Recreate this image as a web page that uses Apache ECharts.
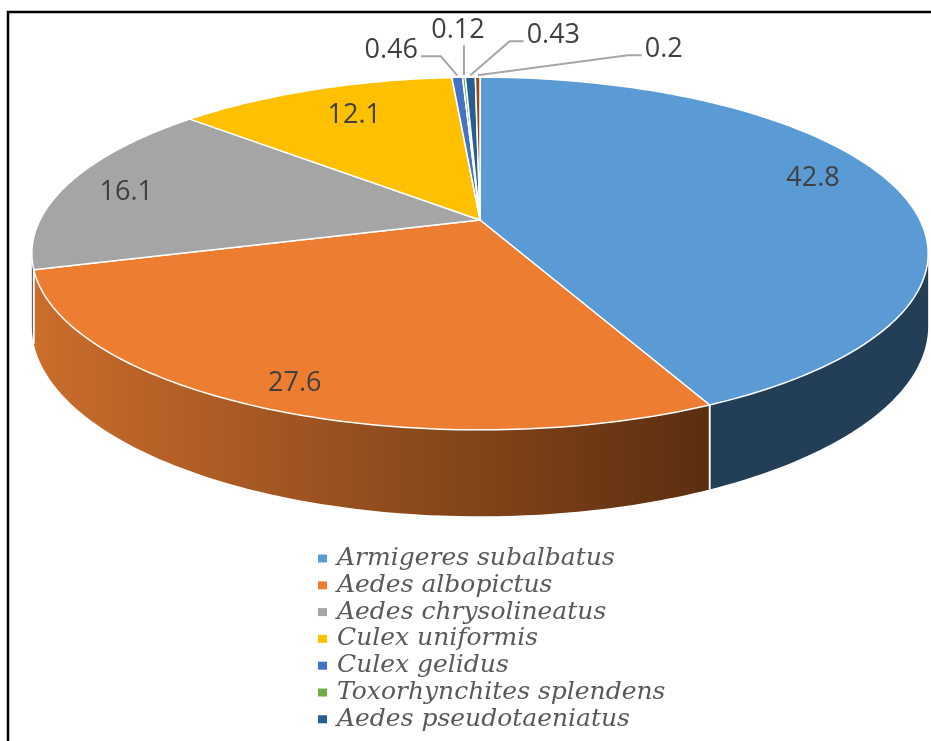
<!DOCTYPE html>
<html><head><meta charset="utf-8">
<script src="https://cdn.jsdelivr.net/npm/echarts@6/dist/echarts.min.js"></script>
<style>html,body{margin:0;padding:0;background:#fff}#c{width:931px;height:741px}</style>
</head><body><div id="c"></div>
<script>
// ---- data ----
const SPECIES = ['Armigeres subalbatus','Aedes albopictus','Aedes chrysolineatus','Culex uniformis','Culex gelidus','Toxorhynchites splendens','Aedes pseudotaeniatus','Other'];
const VALUES = [42.8, 27.6, 16.1, 12.1, 0.46, 0.12, 0.43, 0.2];
const LABELS = ['42.8','27.6','16.1','12.1','0.46','0.12','0.43','0.2'];
const LEGEND_NAMES = SPECIES.slice(0, 7);

// ---- styles / layout ----
const TOP_COLORS = ['#5B9BD5','#ED7D31','#A5A5A5','#FFC000','#4472C4','#70AD47','#255E91','#9E480E'];
const WALL_COLORS = [['#233E57','#233E57'], ['#CB6D2C','#5B2E10'], ['#6E6E6E','#555555'], ['#9A7400','#7A5C00'],
                     ['#2A4A80','#2A4A80'], ['#44692A','#44692A'], ['#173A5A','#173A5A'], ['#5F2B08','#5F2B08']];
const OUTSIDE = [false,false,false,false,true,true,true,true];
const LABEL_OFFSET = [[1,-13],[-18,19],[-22,2],[11,3],[-66,-25],[-6,-45],[83,-40],[186,-26]];
const LABEL_FONT = '27px "Open Sans"';

// perspective pie geometry
const CX = 480, CY = 220, A = 440, B = 170, K = 0.19, T0 = 70;
const TOTAL = VALUES.reduce((s, v) => s + v, 0);
const S1 = Math.acos(-K) * 180 / Math.PI, S2 = 360 - S1;

function P(deg, r, h) {
  const t = deg * Math.PI / 180;
  const u = r * Math.sin(t), v = r * Math.cos(t);
  const w = 1 + K * v;
  return [CX + A * u / w, CY + (-B * v + T0 * h * r) / w];
}
function arc(a0, a1, r, h) {
  const n = Math.max(2, Math.ceil(Math.abs(a1 - a0) / 1) + 1);
  const pts = [];
  for (let j = 0; j < n; j++) pts.push(P(a0 + (a1 - a0) * j / (n - 1), r, h));
  return pts;
}
const measureCtx = document.createElement('canvas').getContext('2d');
measureCtx.font = LABEL_FONT;

function renderItem(params, api) {
  const i = params.seriesIndex;
  const v = api.value(0);
  let start = 0;
  for (let j = 0; j < i; j++) start += VALUES[j];
  const a0 = start / TOTAL * 360, a1 = (start + v) / TOTAL * 360;
  const children = [];
  // side wall (front-facing part only)
  const w0 = Math.max(a0, S1), w1 = Math.min(a1, S2);
  if (w1 > w0) {
    const top = arc(w0, w1, 1, 0), bot = arc(w1, w0, 1, 1);
    const pts = top.concat(bot);
    const xs = pts.map(p => p[0]);
    const fill = new echarts.graphic.LinearGradient(Math.min(...xs), 0, Math.max(...xs), 0,
      [{offset: 0, color: WALL_COLORS[i][0]}, {offset: 1, color: WALL_COLORS[i][1]}], true);
    children.push({type: 'polygon', shape: {points: pts}, style: {fill: fill}, z2: 1});
    [a0, a1].forEach(b => {
      if (b > S1 + 0.5 && b < S2 - 0.5) {
        children.push({type: 'line', shape: {x1: P(b,1,0)[0], y1: P(b,1,0)[1], x2: P(b,1,1)[0], y2: P(b,1,1)[1]},
          style: {stroke: '#fff', lineWidth: 1.5}, z2: 2});
      }
    });
  }
  // top face
  const face = [[CX, CY]].concat(arc(a0, a1, 1, 0));
  children.push({type: 'polygon', shape: {points: face},
    style: {fill: TOP_COLORS[i], stroke: '#fff', lineWidth: 1.5, lineJoin: 'round'}, z2: 10});
  // label
  const mid = (a0 + a1) / 2;
  const off = LABEL_OFFSET[i];
  let tx, ty;
  if (!OUTSIDE[i]) {
    const p = P(mid, 0.8, 0);
    tx = p[0] + off[0]; ty = p[1] + off[1];
  } else {
    const an = P(mid, 1, 0); an[1] -= 2;
    tx = an[0] + off[0]; ty = an[1] + off[1];
    const hw = measureCtx.measureText(LABELS[i]).width / 2;
    let pts;
    if (Math.abs(tx - an[0]) < 20) {
      pts = [[an[0], ty + 15], an];
    } else if (tx < an[0]) {
      const sx = tx + hw + 3;
      pts = [[sx, ty + 6], [sx + 20, ty + 6], an];
    } else {
      const sx = tx - hw - 3;
      pts = [[sx, ty + 6], [sx - 14, ty + 6], an];
    }
    children.push({type: 'polyline', shape: {points: pts},
      style: {stroke: '#A6A6A6', lineWidth: 2, fill: null}, z2: 20});
  }
  children.push({type: 'text', x: tx, y: ty,
    style: {text: LABELS[i], font: LABEL_FONT, fill: '#404040',
      align: 'center', verticalAlign: 'middle', textAlign: 'center', textVerticalAlign: 'middle'}, z2: 30});
  return {type: 'group', children: children};
}

const chart = echarts.init(document.getElementById('c'), null, {renderer: 'canvas'});
chart.setOption({
  animation: false,
  backgroundColor: '#fff',
  graphic: [{type: 'rect', shape: {x: 8, y: 12, width: 1200, height: 1200},
    style: {fill: 'none', stroke: '#000', lineWidth: 2.5}, z: 100, silent: true}],
  legend: {
    data: LEGEND_NAMES, orient: 'vertical', left: 318, top: 546, height: 260, padding: 0,
    icon: 'rect', itemWidth: 9, itemHeight: 8, itemGap: 1.8, selectedMode: false,
    textStyle: {fontFamily: 'DejaVu Serif', fontStyle: 'italic', fontSize: 25, color: '#595959',
      padding: [0, 0, 0, 5]}
  },
  series: VALUES.map((v, i) => ({
    type: 'custom', name: SPECIES[i], coordinateSystem: 'none', silent: true,
    itemStyle: {color: TOP_COLORS[i]}, data: [[v]], renderItem: renderItem
  }))
});
</script></body></html>
